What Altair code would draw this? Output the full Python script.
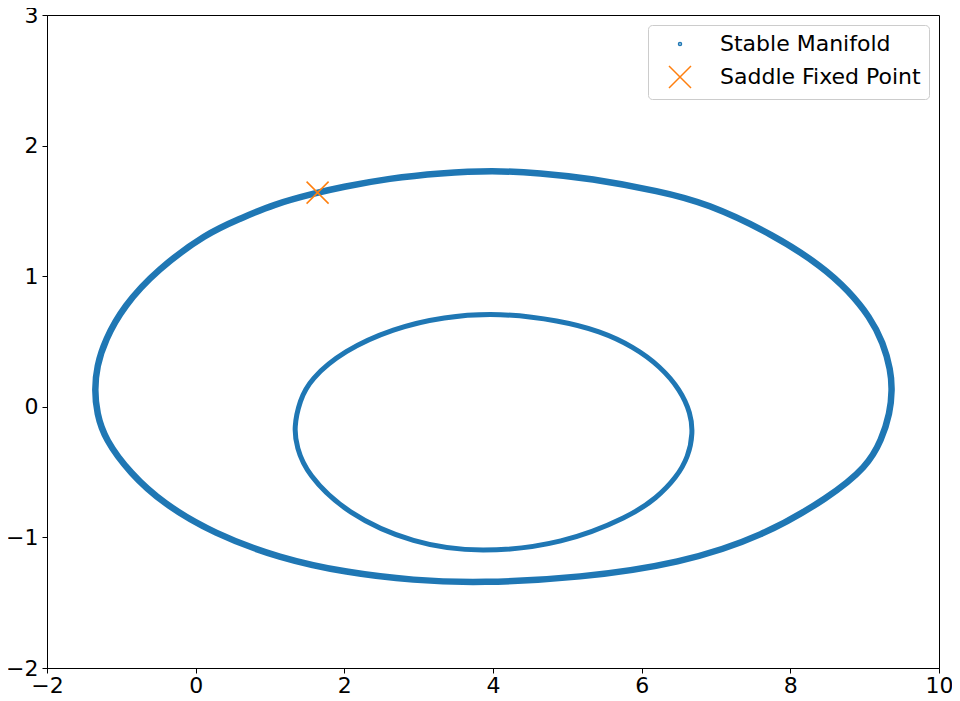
import altair as alt
import pandas as pd

# Outer closed curve of the stable manifold
outer_x = [4.00, 3.29, 2.61, 1.94, 1.64, 1.04, 0.60, 0.15, -0.52, -0.97, -1.22,
           -1.33, -1.36, -1.33, -1.22, -0.88, -0.44, 0.24, 1.13, 2.03, 2.93, 3.83,
           5.17, 6.52, 7.64, 8.53, 9.03, 9.23, 9.34, 9.37, 9.35, 9.25, 9.07, 8.78,
           8.44, 7.77, 6.87, 6.25, 5.30, 4.63]
outer_y = [1.81, 1.79, 1.75, 1.68, 1.64, 1.55, 1.44, 1.33, 1.05, 0.77, 0.51,
           0.31, 0.13, -0.05, -0.25, -0.51, -0.74, -0.97, -1.16, -1.27, -1.33, -1.35,
           -1.31, -1.20, -0.99, -0.69, -0.46, -0.25, -0.05, 0.13, 0.28, 0.49, 0.69, 0.89,
           1.07, 1.32, 1.56, 1.65, 1.75, 1.79]

# Inner closed curve
inner_x = [4.09, 3.33, 2.66, 1.99, 1.54, 1.40, 1.32, 1.36, 1.49, 2.03, 2.93, 3.83,
           4.95, 5.84, 6.20, 6.47, 6.63, 6.69, 6.66, 6.52, 6.25, 5.89, 5.44, 4.90]
inner_y = [0.72, 0.69, 0.60, 0.43, 0.21, 0.05, -0.16, -0.31, -0.51, -0.82, -1.05, -1.12,
           -1.05, -0.84, -0.70, -0.54, -0.38, -0.20, -0.05, 0.13, 0.31, 0.46, 0.58, 0.66]

# Saddle fixed point
saddle_x = [1.64]
saddle_y = [1.64]

series_names = ["Stable Manifold", "Saddle Fixed Point"]
series_colors = ["#1f77b4", "#ff7f0e"]
x_ticks = [-2, 0, 2, 4, 6, 8, 10]
y_ticks = [-2, -1, 0, 1, 2, 3]

outer_df = pd.DataFrame({"x": outer_x, "y": outer_y, "i": list(range(len(outer_x)))})
inner_df = pd.DataFrame({"x": inner_x, "y": inner_y, "i": list(range(len(inner_x)))})
saddle_df = pd.DataFrame({"x": saddle_x, "y": saddle_y, "series": [series_names[1]]})

FONT = "DejaVu Sans"
xscale = alt.Scale(domain=[-2, 10], nice=False, zero=False)
yscale = alt.Scale(domain=[-2, 3], nice=False, zero=False)
xaxis = alt.Axis(values=x_ticks, grid=False, labelFont=FONT, labelFontSize=22,
                 labelColor="black", tickColor="black", domainColor="black",
                 tickSize=5, labelPadding=2, labelFlush=False, labelOverlap=False)
yaxis = alt.Axis(values=y_ticks, grid=False, labelFont=FONT, labelFontSize=22,
                 labelColor="black", tickColor="black", domainColor="black",
                 tickSize=5, labelPadding=4, labelFlush=False, labelOverlap=False)

X = alt.X("x:Q", scale=xscale, axis=xaxis, title=None)
Y = alt.Y("y:Q", scale=yscale, axis=yaxis, title=None)

outer = alt.Chart(outer_df).mark_line(
    interpolate="basis-closed", strokeWidth=6.5, color=series_colors[0]
).encode(x=X, y=Y, order="i:Q")

inner = alt.Chart(inner_df).mark_line(
    interpolate="basis-closed", strokeWidth=5, color=series_colors[0]
).encode(x=X, y=Y, order="i:Q")

xpath = "M-1,-1L1,1M-1,1L1,-1"
saddle = alt.Chart(saddle_df).mark_point(filled=False, strokeWidth=1.5, opacity=1).encode(
    x=X, y=Y,
    color=alt.Color("series:N", scale=alt.Scale(domain=series_names, range=series_colors), title=None),
    shape=alt.Shape("series:N", scale=alt.Scale(domain=series_names, range=["circle", xpath]), title=None),
    size=alt.Size("series:N", scale=alt.Scale(type="ordinal", domain=series_names, range=[9, 484]), title=None),
)

chart = alt.layer(outer, inner, saddle).properties(
    width=892, height=653,
    autosize=alt.AutoSizeParams(type="none"),
    padding={"left": 39, "top": 7, "right": 13, "bottom": 25},
).configure_view(
    stroke="black", strokeWidth=1
).configure_legend(
    orient="top-right", offset=10, padding=8, cornerRadius=4,
    strokeColor="#cccccc", fillColor="white",
    labelFont=FONT, labelFontSize=22, labelColor="black", labelLimit=400,
    labelOffset=28, symbolOffset=12, rowPadding=8, symbolStrokeWidth=1.5,
)

chart.save("out.html", embed_options={"renderer": "svg", "actions": False})
